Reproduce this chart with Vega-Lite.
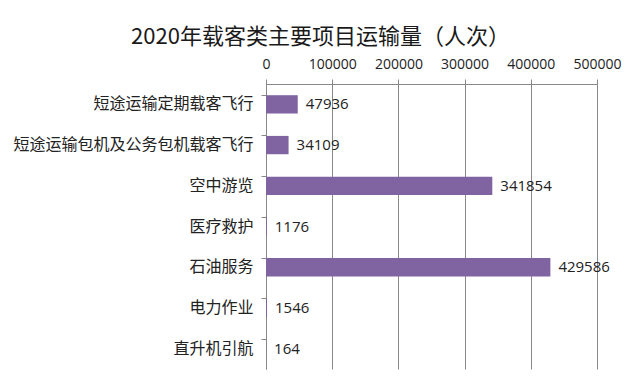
{
  "$schema": "https://vega.github.io/schema/vega-lite/v6.json",
  "width": 331,
  "height": 285,
  "autosize": {"type": "none"},
  "padding": {"left": 266, "top": 84, "right": 43, "bottom": 18},
  "background": "white",
  "title": {
    "text": "2020年载客类主要项目运输量（人次）",
    "font": "Noto Sans CJK SC",
    "fontSize": 22,
    "fontWeight": "normal",
    "color": "#1a1a1a",
    "anchor": "middle",
    "dx": -111,
    "offset": 8
  },
  "data": {
    "values": [
      {"item": "短途运输定期载客飞行", "value": 47936},
      {"item": "短途运输包机及公务包机载客飞行", "value": 34109},
      {"item": "空中游览", "value": 341854},
      {"item": "医疗救护", "value": 1176},
      {"item": "石油服务", "value": 429586},
      {"item": "电力作业", "value": 1546},
      {"item": "直升机引航", "value": 164}
    ]
  },
  "encoding": {
    "y": {
      "field": "item",
      "type": "nominal",
      "sort": null,
      "scale": {"paddingInner": 0.55, "paddingOuter": 0.275},
      "axis": {
        "title": null,
        "labelFont": "Noto Sans CJK SC",
        "labelFontSize": 16,
        "labelColor": "#222222",
        "labelPadding": 8,
        "labelLimit": 400,
        "domainColor": "#888888",
        "tickColor": "#888888",
        "tickSize": 5,
        "bandPosition": 0,
        "grid": false
      }
    },
    "x": {
      "field": "value",
      "type": "quantitative",
      "scale": {"domain": [0, 500000], "nice": false},
      "axis": {
        "orient": "top",
        "title": null,
        "values": [0, 100000, 200000, 300000, 400000, 500000],
        "format": "d",
        "labelFont": "Open Sans",
        "labelFontSize": 14,
        "labelColor": "#222222",
        "labelPadding": 8,
        "labelOverlap": false,
        "labelFlush": false,
        "domainColor": "#888888",
        "tickColor": "#888888",
        "tickSize": 5,
        "grid": true,
        "gridColor": "#888888",
        "gridWidth": 1
      }
    }
  },
  "layer": [
    {"mark": {"type": "bar", "color": "#8064A2"}},
    {
      "mark": {"type": "text", "align": "left", "baseline": "middle", "dx": 8, "font": "Open Sans", "fontSize": 15, "color": "#222222"},
      "encoding": {"text": {"field": "value", "type": "quantitative", "format": "d"}}
    }
  ],
  "config": {"view": {"stroke": null}}
}
